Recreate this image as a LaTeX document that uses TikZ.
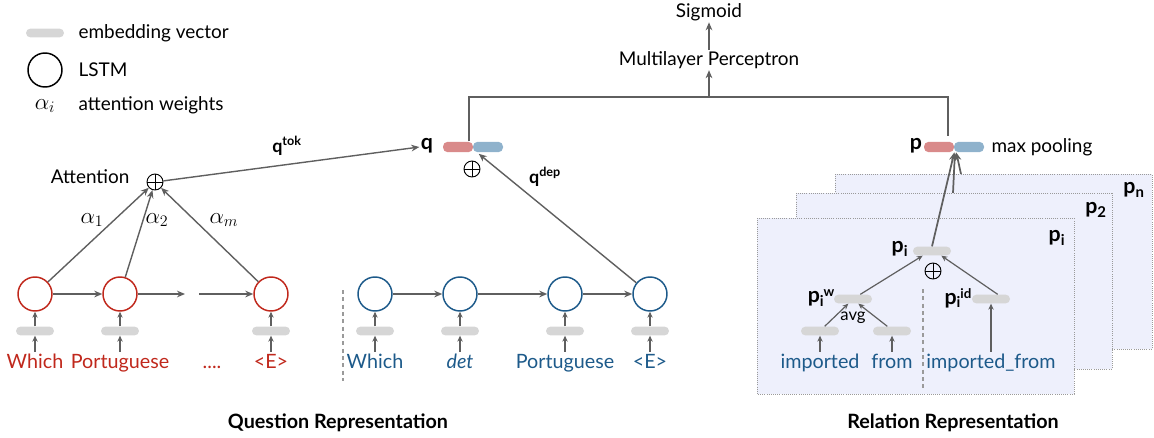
\documentclass[tikz,border=0pt]{standalone}
\usepackage{fontspec}
\setmainfont{Lato}
\usetikzlibrary{arrows.meta,calc}
\definecolor{qred}{HTML}{C0281C}
\definecolor{qblue}{HTML}{1D5A8A}
\definecolor{barred}{HTML}{D98A8A}
\definecolor{barblue}{HTML}{8FB2CC}
\definecolor{embgray}{HTML}{D6D6D6}
\definecolor{arrgray}{HTML}{5F5F5F}
\definecolor{panelfill}{HTML}{EEF0FC}
\definecolor{panelline}{HTML}{9A9A9A}
\begin{document}
\begin{tikzpicture}[x=0.75pt,y=-0.75pt,
  lstm/.style={circle,line width=1.1pt,minimum size=25.5pt,inner sep=0pt},
  lstmR/.style={lstm,draw=qred},
  lstmB/.style={lstm,draw=qblue},
  lstmK/.style={lstm,draw=black},
  emb/.style={rectangle,rounded corners=3.3pt,fill=embgray,minimum width=28.5pt,minimum height=6.6pt,inner sep=0pt},
  redbar/.style={rectangle,rounded corners=3.5pt,fill=barred,minimum width=22.5pt,minimum height=7.8pt,inner sep=0pt},
  bluebar/.style={rectangle,rounded corners=3.5pt,fill=barblue,minimum width=22.5pt,minimum height=7.8pt,inner sep=0pt},
  arr/.style={draw=arrgray,line width=1.05pt,-{Stealth[length=6pt,width=5pt]}},
  sarr/.style={draw=arrgray,line width=0.9pt,-{Stealth[length=4.5pt,width=4pt]}},
  ln/.style={draw=arrgray,line width=1.05pt},
  oplus/.style={circle,draw=black,line width=0.7pt,minimum size=12pt,inner sep=0pt,
    path picture={\draw[line width=0.7pt] (path picture bounding box.north) -- (path picture bounding box.south)
      (path picture bounding box.west) -- (path picture bounding box.east);}},
  word/.style={font=\fontsize{14.8}{16}\selectfont,text height=11pt,text depth=3pt,inner sep=1.2pt},
  wordR/.style={word,text=qred},
  wordB/.style={word,text=qblue},
  lbl/.style={font=\fontsize{14.2}{16}\selectfont,inner sep=1pt},
  blbl/.style={font=\fontsize{13.5}{15}\selectfont\bfseries,inner sep=1pt},
  plbl/.style={font=\fontsize{16}{18}\selectfont\bfseries,inner sep=1pt},
  albl/.style={font=\fontsize{17}{19}\selectfont,inner sep=1pt},
  panel/.style={draw=panelline,densely dotted,line width=0.6pt,fill=panelfill},
  title/.style={font=\fontsize{14.8}{17}\selectfont\bfseries}
]
\useasboundingbox (0,0) rectangle (1154,437);

% ---------- legend ----------
\node[emb] (legemb) at (45,33) {};
\node[lbl,anchor=west] (legembt) at (77,33) {embedding vector};
\node[lstmK] (leglstm) at (45,70) {};
\node[lbl,anchor=west] (leglstmt) at (77,70) {LSTM};
\node[albl] (legalpha) at (45,106) {$\alpha_i$};
\node[lbl,anchor=west] (legalphat) at (77,105) {attention weights};

% ---------- question: token-level (red) ----------
\node[lstmR] (c1) at (35,294) {};
\node[lstmR] (c2) at (120,294) {};
\node[lstmR] (c3) at (271,294) {};
\coordinate (gapA) at (185,294);
\coordinate (gapB) at (199,294);
\draw[arr] (c1) -- (c2);
\draw[arr] (c2) -- (gapA);
\draw[arr] (gapB) -- (c3);

\node[emb] (e1) at (35,331) {};
\node[emb] (e2) at (120,331) {};
\node[emb] (e3) at (271,331) {};
\node[wordR] (w1) at (35,363) {Which};
\node[wordR] (w2) at (120,363) {Portuguese};
\node[wordR] (w3) at (212,363) {....};
\node[wordR] (w4) at (271,363) {<E>};
\foreach \i in {1,2,3}{
  \draw[sarr] (e\i.north) -- (c\i.south);
}
\draw[sarr] (w1.north) -- (e1.south);
\draw[sarr] (w2.north) -- (e2.south);
\draw[sarr] (w4.north) -- (e3.south);

\node[oplus] (att) at (155,182) {};
\node[lbl,anchor=east] (attt) at (131,177) {Attention};
\draw[arr] (c1) -- (att);
\draw[arr] (c2) -- (att);
\draw[arr] (c3) -- (att);
\node[albl] (a1) at (92,220) {$\alpha_1$};
\node[albl] (a2) at (157,220) {$\alpha_2$};
\node[albl] (am) at (224,220) {$\alpha_m$};

% ---------- q ----------
\node[plbl] (q) at (427,146) {q};
\node[redbar] (qr) at (458,147) {};
\node[bluebar] (qb) at (488,147) {};
\node[oplus] (qplus) at (472,169) {};
\draw[arr] (att) -- (q);
\node[blbl] (qtok) at (287,146) {q\textsuperscript{tok}};

% ---------- question: dependency-level (blue) ----------
\draw[panelline,line width=1pt,dash pattern=on 3pt off 2.5pt] (343,290) -- (343,381);
\node[lstmB] (b1) at (375,294) {};
\node[lstmB] (b2) at (460,294) {};
\node[lstmB] (b3) at (565,294) {};
\node[lstmB] (b4) at (650,294) {};
\draw[arr] (b1) -- (b2);
\draw[arr] (b2) -- (b3);
\draw[arr] (b3) -- (b4);
\node[emb] (f1) at (375,331) {};
\node[emb] (f2) at (460,331) {};
\node[emb] (f3) at (565,331) {};
\node[emb] (f4) at (650,331) {};
\node[wordB] (v1) at (375,363) {Which};
\node[wordB] (v2) at (460,363) {\itshape det};
\node[wordB] (v3) at (565,363) {Portuguese};
\node[wordB] (v4) at (650,363) {<E>};
\foreach \i in {1,2,3,4}{
  \draw[sarr] (f\i.north) -- (b\i.south);
  \draw[sarr] (v\i.north) -- (f\i.south);
}
\draw[arr] (b4) -- ([xshift=4.5pt,yshift=-1pt]qb.south west);
\node[blbl] (qdep) at (545,177) {q\textsuperscript{dep}};

% ---------- top: MLP & sigmoid ----------
\coordinate (qjoin) at (469,141);
\coordinate (topL) at (469,97);
\coordinate (topR) at (948,97);
\coordinate (pjoin) at (948,136);
\coordinate (mlpin) at (709,97);
\draw[ln] (qjoin) -- (topL) -- (topR) -- (pjoin);
\node[lbl] (mlp) at (709,60) {Multilayer Perceptron};
\node[lbl] (sig) at (709,12) {Sigmoid};
\draw[arr] (mlpin) -- (mlp);
\draw[arr] (mlp) -- (sig);

% ---------- relation panels ----------
\path[panel] (835,174) rectangle (1152,349);
\path[panel] (796,193) rectangle (1112,369);
\path[panel] (757,218) rectangle (1074,394);
\node[plbl] (pnl) at (1134,190) {p\textsubscript{n}};
\node[plbl] (p2l) at (1096,210) {p\textsubscript{2}};
\node[plbl] (pil) at (1057,238) {p\textsubscript{i}};

% p vector
\node[plbl] (p) at (916,146) {p};
\node[redbar] (pr) at (939,147) {};
\node[bluebar] (pb) at (969,147) {};
\node[lbl,anchor=west] (maxp) at (990,147) {max pooling};

% inside p_i panel
\node[emb] (pib) at (932,251) {};
\node[plbl] (pit) at (900,249) {p\textsubscript{i}};
\node[oplus] (pplus) at (933,271) {};
\node[emb] (piw) at (853,299) {};
\node[plbl,anchor=east] (piwt) at (836,298) {p\textsubscript{i}\kern-0.5pt\raisebox{0.55ex}{\fontsize{10}{12}\selectfont w}};
\node[emb] (piid) at (991,299) {};
\node[plbl,anchor=east] (piidt) at (973,298) {p\textsubscript{i}\kern-0.5pt\raisebox{0.55ex}{\fontsize{10}{12}\selectfont id}};
\node[lbl,font=\fontsize{12.5}{14}\selectfont] (avg) at (853,318) {avg};
\node[emb] (g1) at (820,331) {};
\node[emb] (g2) at (892,331) {};
\node[wordB] (r1) at (820,363) {imported};
\node[wordB] (r2) at (892,363) {from};
\node[wordB] (r3) at (991,363) {imported\_from};
\draw[panelline,line width=1pt,dash pattern=on 3pt off 2.5pt] (923,289) -- (923,388);
\draw[sarr] (r1.north) -- (g1.south);
\draw[sarr] (r2.north) -- (g2.south);
\draw[sarr] (r3.north) -- (piid.south);
\draw[sarr] ([xshift=3.5pt]g1.north) -- ([xshift=-3.5pt]piw.south);
\draw[sarr] ([xshift=-3.5pt]g2.north) -- ([xshift=4pt]piw.south);
\draw[sarr] ([xshift=5.5pt]piw.north) -- ([xshift=-7pt]pib.south);
\draw[sarr] ([xshift=5pt]piid.north) -- ([xshift=7pt]pib.south);

% pooling arrows
\coordinate (p2top) at (953,193);
\coordinate (pntop) at (961,174);
\draw[arr,line width=1.3pt] (pib.north) -- (pr.south east);
\draw[arr,line width=1.3pt] (p2top) -- ([xshift=0.5pt]pr.south east);
\draw[arr,line width=1.3pt] (pntop) -- ([xshift=1.5pt]pr.south east);

% ---------- titles ----------
\node[title] (qtitle) at (338,423) {Question Representation};
\node[title] (rtitle) at (953,423) {Relation Representation};
\end{tikzpicture}
\end{document}
